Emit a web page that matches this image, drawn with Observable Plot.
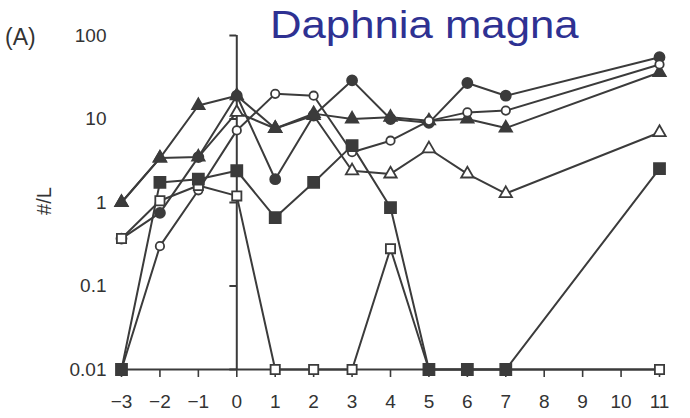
<!DOCTYPE html>
<html>
<head>
<meta charset="utf-8">
<script src="https://cdn.jsdelivr.net/npm/d3@7"></script>
<script src="https://cdn.jsdelivr.net/npm/@observablehq/plot@0.6"></script>
<style>
  body { margin: 0; background: #fff; }
  #wrap { position: relative; width: 690px; height: 418px; font-family: "Liberation Sans", Arial, sans-serif; }
  #wrap svg { position: absolute; left: 0; top: 0; }
  .lbl { position: absolute; white-space: nowrap; line-height: 1; color: #333; }
</style>
</head>
<body>
<div id="wrap"></div>
<script>
// ---- data ----
const months = [-3, -2, -1, 0, 1, 2, 3, 4, 5, 6, 7, 11];
const filledTriangle = [1.0, 3.4, 14.5, 19, 7.7, 11.6, 10, 10.5, 9.5, 10, 7.8, 36];
const filledCircle   = [0.37, 0.75, 3.5, 19, 1.9, 11, 29, 10, 9, 27, 19, 55];
const openCircle     = [0.01, 0.3, 1.4, 7.3, 20, 19, 4, 5.5, 9.5, 12, 12.6, 45];
const openTriangle   = [1.0, 3.4, 3.5, 12, 7.7, 11, 2.4, 2.2, 4.4, 2.2, 1.28, 6.9];
const filledSquare   = [0.01, 1.74, 1.9, 2.4, 0.66, 1.74, 4.8, 0.87, 0.01, 0.01, 0.01, 2.55];
const openSquare     = [0.37, 1.05, 1.6, 1.2, 0.01, 0.01, 0.01, 0.28, 0.01, 0.01, 0.01, 0.01];
const yTicks = [0.01, 0.1, 1, 10, 100];
const yTickLabels = ["0.01", "0.1", "1", "10", "100"];
const xTicks = [-3, -2, -1, 0, 1, 2, 3, 4, 5, 6, 7, 8, 9, 10, 11];
const title = "Daphnia magna";
const panel = "(A)";
const yLabel = "#/L";

const ink = "#3b3b3b";
// drawing order: later series sit on top
const series = [
  {name: "openTriangle",   values: openTriangle,   symbol: "triangle", filled: false, r: 4.6},
  {name: "filledTriangle", values: filledTriangle, symbol: "triangle", filled: true,  r: 4.6},
  {name: "filledCircle",   values: filledCircle,   symbol: "circle",   filled: true,  r: 5},
  {name: "openCircle",     values: openCircle,     symbol: "circle",   filled: false, r: 4.2},
  {name: "openSquare",     values: openSquare,     symbol: "square",   filled: false, r: 5.2},
  {name: "filledSquare",   values: filledSquare,   symbol: "square",   filled: true,  r: 6.2}
];
const rows = series.flatMap(s => months.map((m, i) => ({month: m, value: s.values[i], series: s.name})));

const dotMarks = series.map(s =>
  Plot.dot(rows.filter(d => d.series === s.name), {
    x: "month", y: "value", symbol: s.symbol, r: s.r,
    fill: s.filled ? ink : "white", stroke: ink, strokeWidth: 1.8
  })
);

const chart = Plot.plot({
  width: 690, height: 418,
  marginLeft: 121, marginRight: 31, marginTop: 35, marginBottom: 49,
  style: {fontFamily: "'Liberation Sans', Arial, sans-serif", fontSize: "19px", color: "#333", background: "white"},
  x: {domain: [-3, 11]},
  y: {type: "log", domain: [0.01, 100]},
  marks: [
    Plot.axisX({ticks: xTicks, tickSize: 8, tickPadding: 17, stroke: ink, strokeWidth: 1.6, fontSize: 19, label: null}),
    Plot.axisY({ticks: yTicks, tickSize: 0, tickPadding: 15, tickFormat: d => yTickLabels[yTicks.indexOf(d)], fontSize: 19, label: null}),
    Plot.ruleY([0.01], {x1: -3, x2: 11, stroke: ink, strokeWidth: 2}),
    Plot.ruleX([0], {y1: 0.01, y2: 100, stroke: ink, strokeWidth: 2}),
    Plot.ruleY(yTicks, {x1: -0.18, x2: 0, stroke: ink, strokeWidth: 2}),
    Plot.line(rows, {x: "month", y: "value", z: "series", stroke: ink, strokeWidth: 2}),
    ...dotMarks
  ]
});

const wrap = document.getElementById("wrap");
wrap.appendChild(chart);

function addLabel(text, css) {
  const d = document.createElement("div");
  d.className = "lbl";
  d.textContent = text;
  Object.assign(d.style, css);
  wrap.appendChild(d);
}
addLabel(title, {left: "270px", top: "6px", fontSize: "38px", color: "#2E3192", transform: "scaleX(1.15)", transformOrigin: "left center"});
addLabel(panel, {left: "5px", top: "26px", fontSize: "23px"});
addLabel(yLabel, {left: "44px", top: "201px", fontSize: "20px", transform: "translate(-50%, -50%) rotate(-90deg)"});
</script>
</body>
</html>
